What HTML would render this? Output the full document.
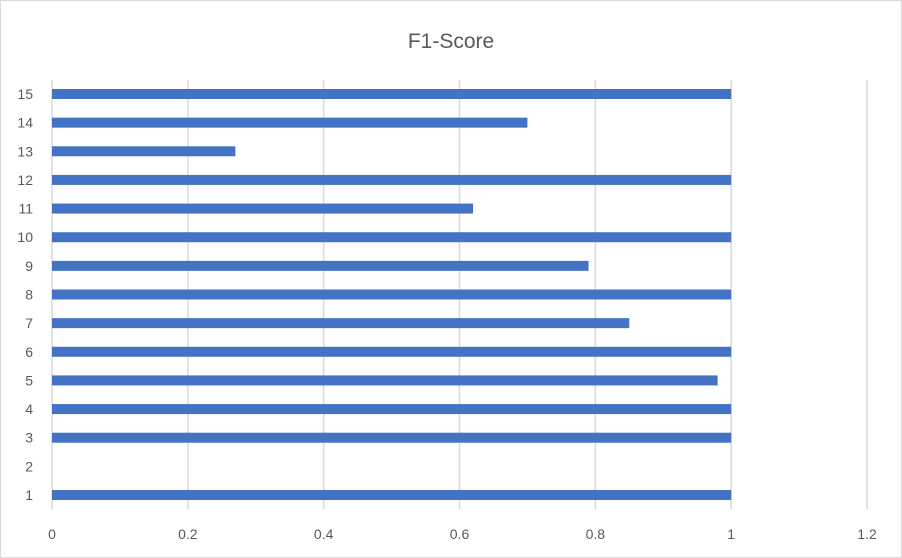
<!DOCTYPE html>
<html><head><style>
body{margin:0;background:#fff;}
svg{display:block;font-family:"Liberation Sans",sans-serif;}
</style></head><body>
<svg id="chart" width="902" height="558">
<rect x="0.5" y="0.5" width="901" height="557" fill="#fff" stroke="#d9d9d9"/>
<text x="451" y="48" text-anchor="middle" font-size="21" fill="#595959">F1-Score</text>
<g id="grid"></g><g id="bars"></g><g id="xt"></g><g id="yt"></g>
</svg>
<script>
const categories=["1","2","3","4","5","6","7","8","9","10","11","12","13","14","15"];
const values=[1,0,1,1,0.98,1,0.85,1,0.79,1,0.62,1,0.27,0.70,1];
const xTicks=[0,0.2,0.4,0.6,0.8,1,1.2];
const xTickLabels=["0","0.2","0.4","0.6","0.8","1","1.2"];
const NS="http://www.w3.org/2000/svg";
const x0=52,x1=867,plotTop=80,plotBot=509;
const xs=v=>x0+(x1-x0)*v/1.2;
const ys=i=>495-(495-94)*i/14;
function mk(t,a,p){const e=document.createElementNS(NS,t);for(const k in a)e.setAttribute(k,a[k]);document.getElementById(p).appendChild(e);return e;}
xTicks.forEach((t,i)=>{
 const g=mk("line",{x1:xs(t),x2:xs(t),y1:plotTop,y2:plotBot,stroke:"#d9d9d9","stroke-width":1.5},"grid");
 
 
 const l=mk("text",{x:xs(t),y:539,"text-anchor":"middle","font-size":14,fill:"#595959"},"xt");
 l.textContent=xTickLabels[i];
 
 
});
categories.forEach((c,i)=>{
 const y=ys(i);
 const b=mk("rect",{x:x0,y:y-5,width:Math.max(0,xs(values[i])-x0),height:10,fill:"#4472c4"},"bars");
 
 
 const l=mk("text",{x:33,y:y+5,"text-anchor":"end","font-size":14,fill:"#595959"},"yt");
 l.textContent=c;
 
 
});
</script>
</body></html>
